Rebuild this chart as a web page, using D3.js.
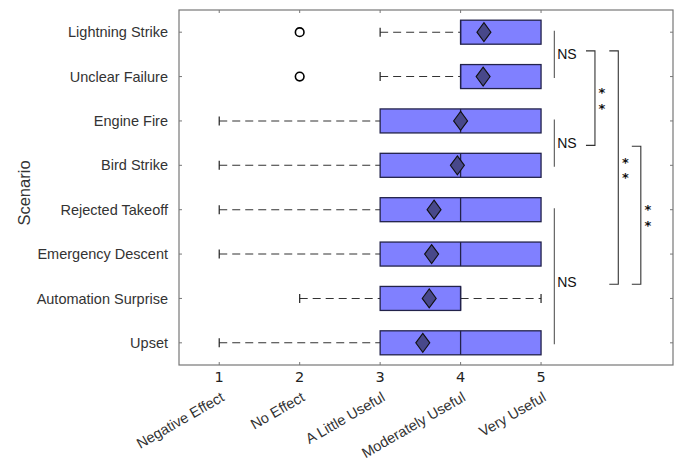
<!DOCTYPE html>
<html>
<head>
<meta charset="utf-8">
<script src="https://cdn.jsdelivr.net/npm/d3@7"></script>
<style>
  body { margin: 0; background: #fff; }
  svg { display: block; font-family: "Liberation Sans", Arial, sans-serif; }
</style>
</head>
<body>
<svg id="chart" width="680" height="461"></svg>
<script>
// scenario rows, top to bottom
const scenarios = ["Lightning Strike", "Unclear Failure", "Engine Fire", "Bird Strike",
  "Rejected Takeoff", "Emergency Descent", "Automation Surprise", "Upset"];
const whiskerLow  = [3, 3, 1, 1, 1, 1, 2, 1];
const q1          = [4, 4, 3, 3, 3, 3, 3, 3];
const median      = [4, 4, 4, 4, 4, 4, 4, 4];
const q3          = [5, 5, 5, 5, 5, 5, 4, 5];
const whiskerHigh = [5, 5, 5, 5, 5, 5, 5, 5];
const means       = [4.29, 4.28, 4.0, 3.96, 3.67, 3.64, 3.61, 3.53];
const outliers    = [[2], [2], [], [], [], [], [], []];

const ratingTicks = [1, 2, 3, 4, 5];
const ratingLabels = ["Negative Effect", "No Effect", "A Little Useful", "Moderately Useful", "Very Useful"];

// significance marks, positions in row units (0 = first row)
const nsGroups = [
  { from: 0, to: 1, labelAt: 0.5 },
  { from: 2, to: 3, labelAt: 2.5 },
  { from: 4, to: 7, labelAt: 5.63 }
];
const sigBrackets = [
  { from: 0.42, to: 2.55, xPos: 5.67, label: "**" },
  { from: 0.42, to: 5.68, xPos: 5.96, label: "**" },
  { from: 2.57, to: 5.68, xPos: 6.24, label: "**" }
];

const svg = d3.select("#chart");
const mLeft = 179, mRight = 673, mTop = 10, mBottom = 365;

const x = d3.scaleLinear().domain([0.5, 6.64]).range([mLeft, mRight]);
const yRow = d3.scaleLinear().domain([-0.5, 7.5]).range([mTop, mBottom]);
const y = d3.scalePoint().domain(scenarios).range([mTop, mBottom]).padding(0.5);

const boxH = 24;
const axisColor = "#777";

// frame
svg.append("rect")
  .attr("x", mLeft).attr("y", mTop)
  .attr("width", mRight - mLeft).attr("height", mBottom - mTop)
  .attr("fill", "none").attr("stroke", axisColor).attr("stroke-width", 1.2);

// ticks on all four sides, pointing inward
const tickG = svg.append("g").attr("stroke", axisColor).attr("stroke-width", 1);
ratingTicks.forEach(t => {
  tickG.append("line").attr("x1", x(t)).attr("x2", x(t)).attr("y1", mBottom).attr("y2", mBottom - 3);
  tickG.append("line").attr("x1", x(t)).attr("x2", x(t)).attr("y1", mTop).attr("y2", mTop + 3);
});
scenarios.forEach(s => {
  tickG.append("line").attr("x1", mLeft).attr("x2", mLeft + 3).attr("y1", y(s)).attr("y2", y(s));
  tickG.append("line").attr("x1", mRight).attr("x2", mRight - 3).attr("y1", y(s)).attr("y2", y(s));
});

// x tick numbers
svg.append("g").selectAll("text")
  .data(ratingTicks)
  .join("text")
    .attr("x", d => x(d))
    .attr("y", 382)
    .attr("text-anchor", "middle")
    .attr("font-family", "'DejaVu Sans', sans-serif")
    .attr("font-size", 14.5)
    .attr("fill", "#222")
    .text(d => d);

// rotated rating labels
svg.append("g").selectAll("text")
  .data(ratingTicks)
  .join("text")
    .attr("transform", d => `translate(${x(d) + 6},400) rotate(-30)`)
    .attr("text-anchor", "end")
    .attr("font-size", 14.5)
    .attr("fill", "#333")
    .text((d, i) => ratingLabels[i]);

// scenario labels
svg.append("g").selectAll("text")
  .data(scenarios)
  .join("text")
    .attr("x", 168)
    .attr("y", d => y(d))
    .attr("dy", "0.35em")
    .attr("text-anchor", "end")
    .attr("font-size", 14.5)
    .attr("fill", "#333")
    .text(d => d);

svg.append("text")
  .attr("transform", "translate(30,193) rotate(-90)")
  .attr("text-anchor", "middle")
  .attr("font-size", 16.5)
  .attr("fill", "#333")
  .text("Scenario");

// boxes
const rows = scenarios.map((s, i) => ({
  name: s, lo: whiskerLow[i], q1: q1[i], med: median[i], q3: q3[i], hi: whiskerHigh[i],
  mean: means[i], out: outliers[i]
}));

const g = svg.append("g").selectAll("g").data(rows).join("g");

// whiskers
g.each(function(d) {
  const sel = d3.select(this);
  const cy = y(d.name);
  [[d.lo, d.q1], [d.q3, d.hi]].forEach(([a, b]) => {
    if (a === b) return;
    sel.append("line")
      .attr("x1", x(a)).attr("x2", x(b)).attr("y1", cy).attr("y2", cy)
      .attr("stroke", "#333").attr("stroke-width", 1.1)
      .attr("stroke-dasharray", "8,5");
  });
  [d.lo, d.hi].forEach((v, k) => {
    if ((k === 0 && v === d.q1) || (k === 1 && v === d.q3)) return;
    sel.append("line")
      .attr("x1", x(v)).attr("x2", x(v)).attr("y1", cy - 4.5).attr("y2", cy + 4.5)
      .attr("stroke", "#222").attr("stroke-width", 1.2);
  });
});

g.append("rect")
  .attr("x", d => x(d.q1))
  .attr("y", d => y(d.name) - boxH / 2)
  .attr("width", d => x(d.q3) - x(d.q1))
  .attr("height", boxH)
  .attr("fill", "#8080ff")
  .attr("stroke", "#22224a")
  .attr("stroke-width", 1.3);

g.append("line")
  .attr("x1", d => x(d.med)).attr("x2", d => x(d.med))
  .attr("y1", d => y(d.name) - boxH / 2).attr("y2", d => y(d.name) + boxH / 2)
  .attr("stroke", "#22224a").attr("stroke-width", 1.3);

// mean diamonds
g.append("path")
  .attr("d", d => {
    const cx = x(d.mean), cy = y(d.name);
    return `M${cx},${cy - 9.5}L${cx + 7},${cy}L${cx},${cy + 9.5}L${cx - 7},${cy}Z`;
  })
  .attr("fill", "#48488a")
  .attr("stroke", "#111")
  .attr("stroke-width", 1.1);

// outliers
g.selectAll("circle")
  .data(d => d.out.map(v => ({ v, name: d.name })))
  .join("circle")
    .attr("cx", d => x(d.v))
    .attr("cy", d => y(d.name))
    .attr("r", 4.3)
    .attr("fill", "#fff")
    .attr("stroke", "#000")
    .attr("stroke-width", 1.6);

// NS groups
const nsG = svg.append("g");
nsGroups.forEach(d => {
  nsG.append("line")
    .attr("x1", x(5.165)).attr("x2", x(5.165))
    .attr("y1", yRow(d.from) - 1.5).attr("y2", yRow(d.to) + 1.5)
    .attr("stroke", "#555").attr("stroke-width", 1.1);
  nsG.append("text")
    .attr("x", x(5.2))
    .attr("y", yRow(d.labelAt))
    .attr("dy", "0.35em")
    .attr("font-size", 14)
    .attr("fill", "#111")
    .text("NS");
});

// significance brackets
const sigG = svg.append("g");
sigBrackets.forEach(d => {
  const bx = x(d.xPos), y1 = yRow(d.from), y2 = yRow(d.to);
  sigG.append("path")
    .attr("d", `M${bx - 9},${y1}H${bx}V${y2}H${bx - 9}`)
    .attr("fill", "none")
    .attr("stroke", "#333")
    .attr("stroke-width", 1.1);
  const mid = (y1 + y2) / 2;
  // stars stacked vertically, one under the other
  d.label.split("").forEach((c, k) => {
    sigG.append("text")
      .attr("x", bx + 7)
      .attr("y", mid - 7.75 + k * 15.5 + 7)
      .attr("text-anchor", "middle")
      .attr("font-family", "'DejaVu Sans', sans-serif")
      .attr("font-size", 13)
      .attr("font-weight", "bold")
      .attr("fill", "#111")
      .text(c);
  });
});
</script>
</body>
</html>
